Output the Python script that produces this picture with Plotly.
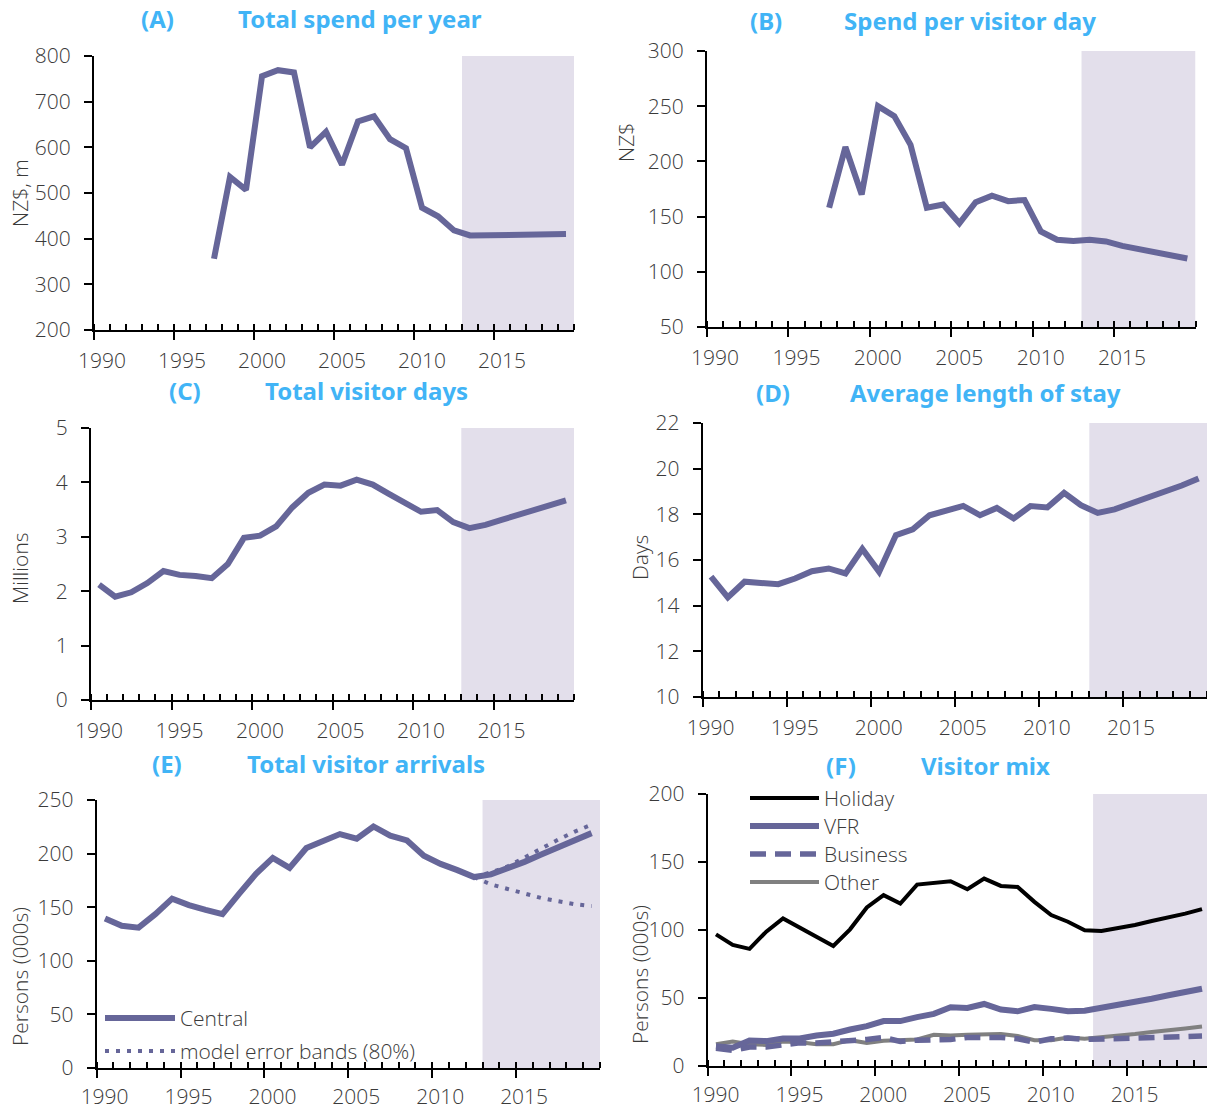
import plotly.graph_objects as go

# ---- data -----------------------------------------------------------------
years_all = list(range(1990, 2020))
years_spend = list(range(1997, 2020))
band_years = list(range(2012, 2020))

spend_total = [356, 535, 507, 756, 769, 764, 600, 634, 562, 657, 668, 618,
               598, 468, 449, 418, 407, 407, 408, 408, 409, 409, 410]
spend_per_day = [158, 213, 170, 250, 241, 215, 158, 161, 144, 163, 169, 164,
                 165, 136.5, 129, 128, 129, 127.5, 123.5, 120.5, 118, 115, 112]
visitor_days = [2.12, 1.90, 1.98, 2.15, 2.37, 2.30, 2.28, 2.24, 2.50, 2.98,
                3.02, 3.19, 3.54, 3.81, 3.96, 3.94, 4.05, 3.96, 3.79, 3.62,
                3.46, 3.49, 3.27, 3.16, 3.22, 3.31, 3.40, 3.49, 3.57, 3.67]
avg_stay = [15.27, 14.36, 15.05, 15.02, 14.94, 15.19, 15.51, 15.63, 15.41, 16.48,
            15.48, 17.09, 17.34, 17.96, 18.14, 18.37, 17.96, 18.28, 17.82, 18.36,
            18.30, 18.94, 18.40, 18.06, 18.22, 18.47, 18.72, 18.98, 19.26, 19.57]
arrivals_central = [139.5, 132.7, 130.9, 143.5, 158, 151.9, 147.5, 143.5, 162.7, 181.2,
                    196, 186.7, 205.2, 211.4, 218.2, 213.9, 225.3, 216.7, 212.3, 198.1,
                    190.4, 184.6, 178.1, 180.6, 185.8, 192.3, 199.1, 205.9, 212.3, 219.1]
arrivals_upper = [178.1, 182.5, 188, 196.5, 204.5, 213, 220.5, 227]
arrivals_lower = [178.1, 171.3, 167, 162.7, 158.6, 155.6, 152.8, 151]
holiday = [96.8, 89, 86.1, 98.8, 108.5, 101.7, 94.4, 88.3, 100.5, 116.6,
           125.6, 119.5, 133.4, 134.9, 135.9, 130, 137.8, 132.4, 131.7, 120.7,
           111, 106.1, 99.8, 99.3, 101.2, 103.7, 106.6, 109, 112, 115.4]
vfr = [14.6, 13.4, 18.8, 18.3, 20.2, 20.2, 22.4, 23.7, 26.8, 29.3,
       33, 33, 35.9, 38.3, 43.2, 42.7, 45.6, 41.5, 40.2, 43.4,
       42, 40.2, 40.7, 42.7, 44.6, 47, 49.5, 52, 54.4, 56.8]
business = [13, 11.5, 14, 14, 15.5, 17, 17, 17.5, 19, 19.5,
            21, 18, 19, 19, 19.5, 21, 21.5, 21, 20, 17.5,
            20, 20.5, 19.5, 20, 20.5, 21, 21, 21.5, 21.5, 22]
other = [16, 18, 16, 15.5, 18, 17.5, 16, 16, 19, 17,
         18.5, 19, 19.5, 23, 22.5, 23, 23.5, 23.5, 22, 19,
         19, 21, 20, 21, 22.5, 23.5, 25, 26, 27.5, 29]

year_labels = ["1990", "1995", "2000", "2005", "2010", "2015"]
forecast_start = 2012.5

# ---- styling ----------------------------------------------------------------
W, H = 1207, 1110
PURPLE = "#666699"
SHADE = "#e3dfeb"
TITLE_BLUE = "#41b4f6"
TICK_FONT = dict(family="Open Sans", size=21, color="#3a3a3a", weight=300)
TITLE_FONT = dict(family="Noto Sans", size=24, color=TITLE_BLUE, weight="bold")


def px_x(v):
    return v / W


def px_y(v):
    return 1 - v / H


# panel boxes in pixels: (left, right, top, bottom), y range, y step, x end
panels = [
    dict(box=(94, 574, 56, 330), yr=(200, 800), dy=100, xend=2019.5, xstand=3,
         tag="(A)", tag_x=158, title="Total spend per year", title_x=360, title_y=18,
         ylab="NZ$, m", ylab_x=20, ylab_y=193),
    dict(box=(707, 1195.5, 51, 327), yr=(50, 300), dy=50, xend=2019.5, xstand=3,
         tag="(B)", tag_x=766, title="Spend per visitor day", title_x=970, title_y=20,
         ylab="NZ$", ylab_x=626, ylab_y=143),
    dict(box=(91, 574, 428, 700), yr=(0, 5), dy=1, xend=2019.5, xstand=3,
         tag="(C)", tag_x=185, title="Total visitor days", title_x=366, title_y=391,
         ylab="Millions", ylab_x=20, ylab_y=568),
    dict(box=(702.6, 1207, 423, 697), yr=(10, 22), dy=2, xend=2019.5, xstand=3,
         tag="(D)", tag_x=773, title="Average length of stay", title_x=985, title_y=393,
         ylab="Days", ylab_x=640, ylab_y=558),
    dict(box=(96.6, 600, 800, 1068), yr=(0, 250), dy=50, xend=2019.5, xstand=1,
         tag="(E)", tag_x=167, title="Total visitor arrivals", title_x=366, title_y=763,
         ylab="Persons (000s)", ylab_x=20, ylab_y=977),
    dict(box=(707.6, 1207, 794, 1066), yr=(0, 200), dy=50, xend=1989.5 + (1207 - 707.6) / 16.76,
         xstand=1,
         tag="(F)", tag_x=841, title="Visitor mix", title_x=985, title_y=766,
         ylab="Persons (000s)", ylab_x=640, ylab_y=975),
]

fig = go.Figure()

# ---- traces -----------------------------------------------------------------
def add_line(i, x, y, color=PURPLE, width=6, dash="solid", name=""):
    fig.add_trace(go.Scatter(
        x=x, y=y, mode="lines", name=name, showlegend=False,
        line=dict(color=color, width=width, dash=dash),
        xaxis="x" if i == 1 else f"x{i}", yaxis="y" if i == 1 else f"y{i}",
        hoverinfo="skip"))


add_line(1, years_spend, spend_total)
add_line(2, years_spend, spend_per_day)
add_line(3, years_all, visitor_days)
add_line(4, years_all, avg_stay)
add_line(5, band_years, arrivals_upper, width=4, dash="4px,7px")
add_line(5, band_years, arrivals_lower, width=4, dash="4px,7px")
add_line(5, years_all, arrivals_central)
add_line(6, years_all, other, color="#808080", width=4)
add_line(6, years_all, business, width=5.5, dash="16px,9px")
add_line(6, years_all, vfr, width=6)
add_line(6, years_all, holiday, color="black", width=4)

# ---- axes, shading, titles ---------------------------------------------------
shapes = []
annotations = []
for i, p in enumerate(panels, start=1):
    left, right, top, bottom = p["box"]
    xname = "xaxis" if i == 1 else f"xaxis{i}"
    yname = "yaxis" if i == 1 else f"yaxis{i}"
    xref = "x" if i == 1 else f"x{i}"
    yref = "y" if i == 1 else f"y{i}"
    half_year_px = int(round((right - left) / (p["xend"] - 1989.5) / 2))
    major = [1989.5 + 5 * k for k in range(7)]
    minor = [1989.5 + k for k in range(31)]
    fig.update_layout({
        xname: dict(
            domain=[px_x(left), px_x(right)], range=[1989.5, p["xend"]],
            anchor=yref, showgrid=False, zeroline=False, automargin=False,
            showline=True, linecolor="black", linewidth=2,
            tickmode="array", tickvals=major, ticktext=year_labels + [""],
            ticks="outside", ticklen=8, tickwidth=2, tickcolor="black",
            ticklabelshift=half_year_px, ticklabelstandoff=p["xstand"],
            minor=dict(tickmode="array", tickvals=minor, ticks="inside",
                       ticklen=6, tickwidth=2, tickcolor="black"),
            tickfont=TICK_FONT, fixedrange=True,
        ),
        yname: dict(
            domain=[px_y(bottom), px_y(top)], range=list(p["yr"]),
            anchor=xref, showgrid=False, zeroline=False, automargin=False,
            showline=True, linecolor="black", linewidth=2,
            tickmode="linear", tick0=p["yr"][0], dtick=p["dy"],
            ticks="outside", ticklen=8, tickwidth=2, tickcolor="black",
            ticklabelstandoff=9, tickfont=TICK_FONT, fixedrange=True,
        ),
    })
    # forecast period shading
    shapes.append(dict(type="rect", xref=xref, yref=f"{yref} domain",
                       x0=forecast_start, x1=p["xend"], y0=0, y1=1,
                       fillcolor=SHADE, line=dict(width=0), layer="below"))
    # panel tag and title
    annotations.append(dict(text=p["tag"], x=px_x(p["tag_x"]), y=px_y(p["title_y"]),
                            xref="paper", yref="paper", showarrow=False,
                            xanchor="center", yanchor="middle", font=TITLE_FONT))
    annotations.append(dict(text=p["title"], x=px_x(p["title_x"]), y=px_y(p["title_y"]),
                            xref="paper", yref="paper", showarrow=False,
                            xanchor="center", yanchor="middle", font=TITLE_FONT))
    # y-axis title
    annotations.append(dict(text=p["ylab"], x=px_x(p["ylab_x"]), y=px_y(p["ylab_y"]),
                            xref="paper", yref="paper", showarrow=False, textangle=-90,
                            xanchor="center", yanchor="middle", font=TICK_FONT))

# ---- legends (panel E and F) -------------------------------------------------
def legend_entry(x0, x1, y, text, color, width, dash="solid"):
    shapes.append(dict(type="line", xref="paper", yref="paper",
                       x0=px_x(x0), x1=px_x(x1), y0=px_y(y), y1=px_y(y),
                       line=dict(color=color, width=width, dash=dash)))
    annotations.append(dict(text=text, x=px_x(x1 + 3), y=px_y(y), xref="paper", yref="paper",
                            showarrow=False, xanchor="left", yanchor="middle",
                            font=TICK_FONT))


legend_entry(105, 175, 1018, "Central", PURPLE, 6)
legend_entry(105, 175, 1051, "model error bands (80%)", PURPLE, 4, dash="4px,7px")
legend_entry(750, 819, 798, "Holiday", "black", 4)
legend_entry(750, 819, 826, "VFR", PURPLE, 6)
legend_entry(750, 819, 854, "Business", PURPLE, 5.5, dash="16px,9px")
legend_entry(750, 819, 882, "Other", "#808080", 4)

fig.update_layout(
    width=W, height=H, margin=dict(l=0, r=0, t=0, b=0, autoexpand=False),
    paper_bgcolor="white", plot_bgcolor="rgba(0,0,0,0)",
    showlegend=False, shapes=shapes, annotations=annotations,
)

fig.write_html("out.html")
